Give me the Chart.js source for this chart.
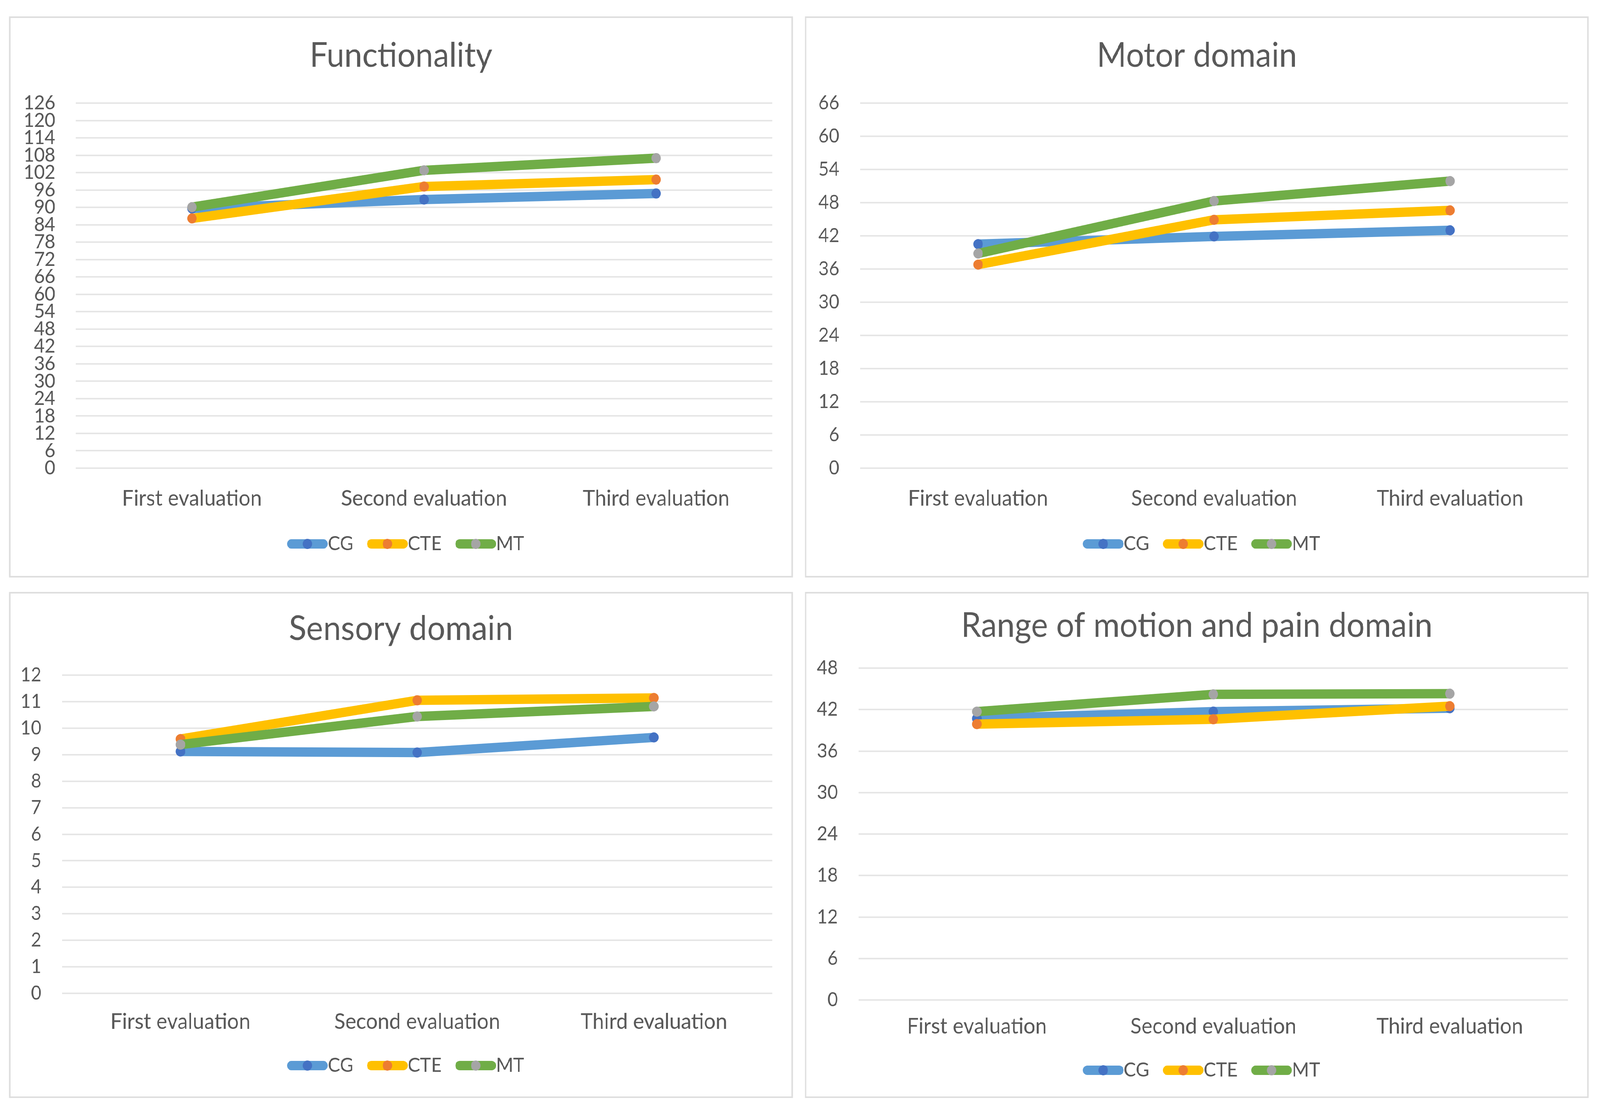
<!DOCTYPE html>
<html>
<head>
<meta charset="utf-8">
<script src="https://cdn.jsdelivr.net/npm/chart.js@4.4.1/dist/chart.umd.min.js"></script>
<style>
html, body { margin: 0; padding: 0; background: #fff; overflow: hidden; }
#page { width: 4403px; height: 2853px; position: absolute; left: 0; top: 0; transform-origin: 0 0; }
.panel { position: absolute; box-sizing: border-box; border: 4px solid #dedede; background: #fff; }
.panel canvas { display: block; }
</style>
</head>
<body>
<div id="page">
<div class="panel" style="left:25px;top:42px;width:2157px;height:1437px"><canvas id="functionality"></canvas></div>
<div class="panel" style="left:2215px;top:42px;width:2157px;height:1437px"><canvas id="motor"></canvas></div>
<div class="panel" style="left:25px;top:1516px;width:2157px;height:1296px"><canvas id="sensory"></canvas></div>
<div class="panel" style="left:2215px;top:1516px;width:2157px;height:1296px"><canvas id="range"></canvas></div>
</div>
<script>
// ===========================================
// Data
// ===========================================
var categories = ["First evaluation", "Second evaluation", "Third evaluation"];
var series_names = ["CG", "CTE", "MT"];

var functionality_cg  = [89.6, 92.7, 94.8];
var functionality_cte = [86.2, 97.2, 99.6];
var functionality_mt  = [90.1, 102.8, 107.0];

var motor_cg  = [40.5, 41.9, 43.0];
var motor_cte = [36.8, 44.9, 46.6];
var motor_mt  = [38.8, 48.3, 51.9];

var sensory_cg  = [9.12, 9.08, 9.65];
var sensory_cte = [9.59, 11.05, 11.14];
var sensory_mt  = [9.38, 10.44, 10.82];

var range_cg  = [40.7, 41.7, 42.2];
var range_cte = [39.9, 40.6, 42.5];
var range_mt  = [41.7, 44.2, 44.3];

// y axis ticks: [max, step]
var functionality_ticks = [126, 6];
var motor_ticks = [66, 6];
var sensory_ticks = [12, 1];
var range_ticks = [48, 6];

// ===========================================
// Style
// ===========================================
var line_colors  = ["#5B9BD5", "#FFC000", "#70AD47"];
var point_colors = ["#4472C4", "#ED7D31", "#A5A5A5"];
var text_color = "#595959";
var grid_color = "#e6e6e6";

var TITLE_SIZE = 88;
var X_SIZE = 57;
var Y_SIZE = 50;
var LEG_SIZE = 51;
var LEG_LINE = 112;
var LEG_PAD = 12;
var LINE_W = 24;
var POINT_R = 13;
var RIGHT_GAP = 53;

Chart.defaults.font.family = "Lato, 'Open Sans', sans-serif";
Chart.defaults.color = text_color;

// page is laid out in 4403x2853 units, then stretched to the real viewport
var page = document.getElementById("page");
var KX = window.innerWidth / 4403;
var KY = window.innerHeight / 2853;
page.style.transform = "scale(" + KX + "," + KY + ")";
var DPR = (window.devicePixelRatio || 1) * Math.max(KX, KY);

// positions inside each canvas (px from top/left of the canvas)
var layouts = {
	functionality: { titleC: 97, top: 218, left: 180, bottom: 1153, xLabelC: 1231, legendC: 1347 },
	motor:         { titleC: 97, top: 218, left: 148, bottom: 1153, xLabelC: 1231, legendC: 1347 },
	sensory:       { titleC: 91, top: 209, left: 142, bottom: 1024, xLabelC: 1097, legendC: 1209 },
	range:         { titleC: 83, top: 191, left: 144, bottom: 1041, xLabelC: 1109, legendC: 1221 }
};

// ===========================================
// Functions
// ===========================================
function makeSwatch(lineColor, dotColor) {
	var c = document.createElement('canvas');
	c.width = LEG_LINE + LEG_SIZE;
	c.height = 40;
	var g = c.getContext('2d');
	g.strokeStyle = lineColor;
	g.lineWidth = LINE_W;
	g.lineCap = 'round';
	g.beginPath();
	g.moveTo(LEG_SIZE + LINE_W / 2, 20);
	g.lineTo(c.width - LINE_W / 2, 20);
	g.stroke();
	g.fillStyle = dotColor;
	g.beginPath();
	g.arc(LEG_SIZE + LEG_LINE / 2, 20, POINT_R, 0, Math.PI * 2);
	g.fill();
	return c;
}

var swatches = [0, 1, 2].map(function (i) { return makeSwatch(line_colors[i], point_colors[i]); });

function createLineChart(id, title, ticks, cg, cte, mt) {
	var lay = layouts[id];
	var canvas = document.getElementById(id);
	var H = canvas.parentNode.clientHeight;
	var titleBox = TITLE_SIZE * 1.2;
	var xBox = X_SIZE * 1.2;
	var xPad = lay.xLabelC - xBox / 2 - lay.bottom;
	var legendH = LEG_SIZE + LEG_PAD + 10;
	var legendTop = lay.legendC - LEG_PAD - LEG_SIZE / 2;
	var values = [cg, cte, mt];

	new Chart(canvas, {
		type: 'line',
		data: {
			labels: categories,
			datasets: values.map(function (v, i) {
				return {
					label: series_names[i],
					data: v,
					order: 2 - i,
					borderColor: line_colors[i],
					backgroundColor: line_colors[i],
					borderWidth: LINE_W,
					borderCapStyle: 'round',
					borderJoinStyle: 'round',
					pointRadius: POINT_R,
					pointBorderWidth: 0,
					pointBackgroundColor: point_colors[i],
					pointBorderColor: point_colors[i],
					tension: 0,
					fill: false
				};
			})
		},
		options: {
			responsive: true,
			maintainAspectRatio: false,
			animation: false,
			devicePixelRatio: DPR,
			layout: { padding: { left: 0, top: 0, right: 0, bottom: H - legendTop - legendH } },
			plugins: {
				title: {
					display: true,
					text: title,
					color: text_color,
					font: { size: TITLE_SIZE, weight: 'normal', lineHeight: 1.2 },
					padding: { top: lay.titleC - titleBox / 2, bottom: lay.top - lay.titleC - titleBox / 2 }
				},
				legend: {
					position: 'bottom',
					labels: {
						usePointStyle: true,
						pointStyleWidth: LEG_LINE,
						padding: LEG_PAD,
						color: text_color,
						font: { size: LEG_SIZE },
						generateLabels: function (chart) {
							return chart.data.datasets.map(function (ds, i) {
								return {
									text: ds.label,
									pointStyle: swatches[i],
									fillStyle: ds.borderColor,
									strokeStyle: ds.borderColor,
									lineWidth: 0,
									hidden: false,
									datasetIndex: i,
									fontColor: text_color
								};
							});
						}
					}
				},
				tooltip: { enabled: false }
			},
			scales: {
				x: {
					offset: true,
					grid: { display: false, drawTicks: false },
					border: { display: false },
					ticks: { padding: xPad, maxRotation: 0, color: text_color, font: { size: X_SIZE, lineHeight: 1.2 } },
					afterFit: function (scale) { scale.height = legendTop - lay.bottom; }
				},
				y: {
					min: 0,
					max: ticks[0],
					grid: { color: grid_color, lineWidth: 4, drawTicks: false },
					border: { display: false },
					ticks: { stepSize: ticks[1], autoSkip: false, padding: 57, color: text_color, font: { size: Y_SIZE, lineHeight: 1.2 } },
					afterFit: function (scale) { scale.width = lay.left; }
				},
				// empty right-hand axis, only keeps the gap after the plot
				yRight: {
					type: 'linear',
					position: 'right',
					grid: { display: false, drawTicks: false },
					border: { display: false },
					ticks: { display: false },
					afterFit: function (scale) { scale.width = RIGHT_GAP; }
				}
			}
		}
	});
}

createLineChart("functionality", "Functionality", functionality_ticks, functionality_cg, functionality_cte, functionality_mt);
createLineChart("motor", "Motor domain", motor_ticks, motor_cg, motor_cte, motor_mt);
createLineChart("sensory", "Sensory domain", sensory_ticks, sensory_cg, sensory_cte, sensory_mt);
createLineChart("range", "Range of motion and pain domain", range_ticks, range_cg, range_cte, range_mt);
</script>
</body>
</html>
